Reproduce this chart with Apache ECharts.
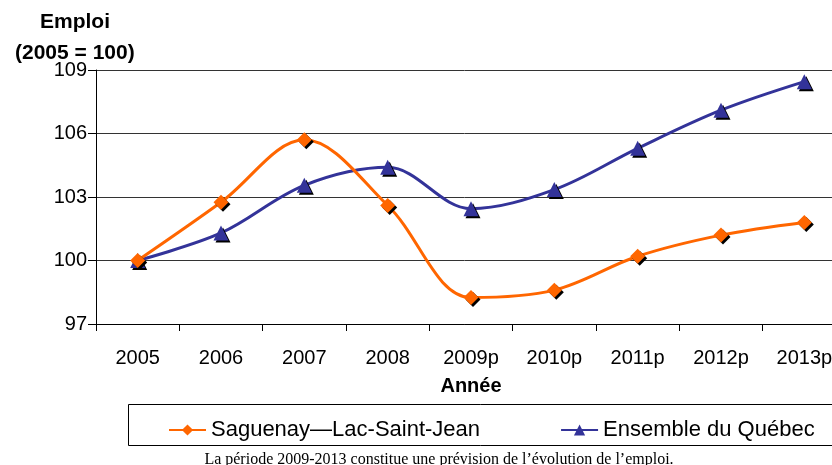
<!DOCTYPE html>
<html><head><meta charset="utf-8">
<script src="https://cdn.jsdelivr.net/npm/echarts@6/dist/echarts.min.js"></script>
<style>html,body{margin:0;padding:0;background:#fff}#c{width:832px;height:465px}</style>
</head><body><div id="c"></div>
<script>
const categories = ['2005','2006','2007','2008','2009p','2010p','2011p','2012p','2013p'];
const saguenay = [100, 102.75, 105.7, 102.6, 98.25, 98.6, 100.2, 101.2, 101.8];
const quebec = [100, 101.3, 103.55, 104.4, 102.45, 103.35, 105.3, 107.1, 108.45];
const yTicks = {min: 97, max: 109, interval: 3};
const seriesNames = ['Saguenay\u2014Lac-Saint-Jean', 'Ensemble du Qu\u00e9bec'];

const chart = echarts.init(document.getElementById('c'), null, {renderer: 'canvas'});
const font = 'Arial, "Liberation Sans", sans-serif';
const shadow = {shadowColor: '#000', shadowBlur: 0, shadowOffsetX: 2, shadowOffsetY: 2};
chart.setOption({
  animation: false,
  backgroundColor: '#fff',
  grid: {left: 96, top: 70, width: 750, height: 254, outerBoundsMode: 'none', containLabel: false},
  xAxis: {
    type: 'category', data: categories, boundaryGap: true,
    axisLine: {lineStyle: {color: '#000', width: 1}},
    axisTick: {show: true, length: 7, lineStyle: {color: '#000'}},
    axisLabel: {color: '#000', fontSize: 20, fontFamily: font, margin: 24},
    name: 'Ann\u00e9e', nameLocation: 'middle', nameGap: 52,
    nameTextStyle: {color: '#000', fontSize: 20, fontWeight: 'bold', fontFamily: font}
  },
  yAxis: {
    type: 'value', min: yTicks.min, max: yTicks.max, interval: yTicks.interval,
    axisLine: {show: true, lineStyle: {color: '#000'}},
    axisTick: {show: true, length: 8, lineStyle: {color: '#000'}},
    axisLabel: {color: '#000', fontSize: 20, fontFamily: font, margin: 9},
    splitLine: {show: true, lineStyle: {color: '#333', width: 1}}
  },
  legend: {
    left: 163, top: 414, itemWidth: 37, itemHeight: 14, itemGap: 80,
    textStyle: {color: '#000', fontSize: 22, fontFamily: font},
    data: seriesNames
  },
  series: [
    {name: seriesNames[0], type: 'line', data: saguenay, smooth: 0.35,
     symbol: 'diamond', symbolSize: 15,
     lineStyle: {color: '#FF6600', width: 3},
     itemStyle: Object.assign({color: '#FF6600'}, shadow), z: 3},
    {name: seriesNames[1], type: 'line', data: quebec, smooth: 0.35,
     symbol: 'triangle', symbolSize: 15,
     lineStyle: {color: '#333399', width: 3},
     itemStyle: Object.assign({color: '#333399'}, shadow), z: 2}
  ],
  graphic: [
    {type: 'text', left: 40, top: 12, style: {text: 'Emploi', fill: '#000', font: 'bold 21px ' + font}},
    {type: 'text', left: 15, top: 43, style: {text: '(2005 = 100)', fill: '#000', font: 'bold 21px ' + font}},
    {type: 'rect', shape: {x: 128.5, y: 404.5, width: 720, height: 41}, style: {fill: 'none', stroke: '#000', lineWidth: 1}, z: -1},
    {type: 'text', x: 439, y: 452, style: {text: 'La p\u00e9riode 2009-2013 constitue une pr\u00e9vision de l\u2019\u00e9volution de l\u2019emploi.', fill: '#000', font: '16px "Liberation Serif", "Times New Roman", serif', textAlign: 'center', textVerticalAlign: 'top'}}
  ]
});
</script></body></html>
